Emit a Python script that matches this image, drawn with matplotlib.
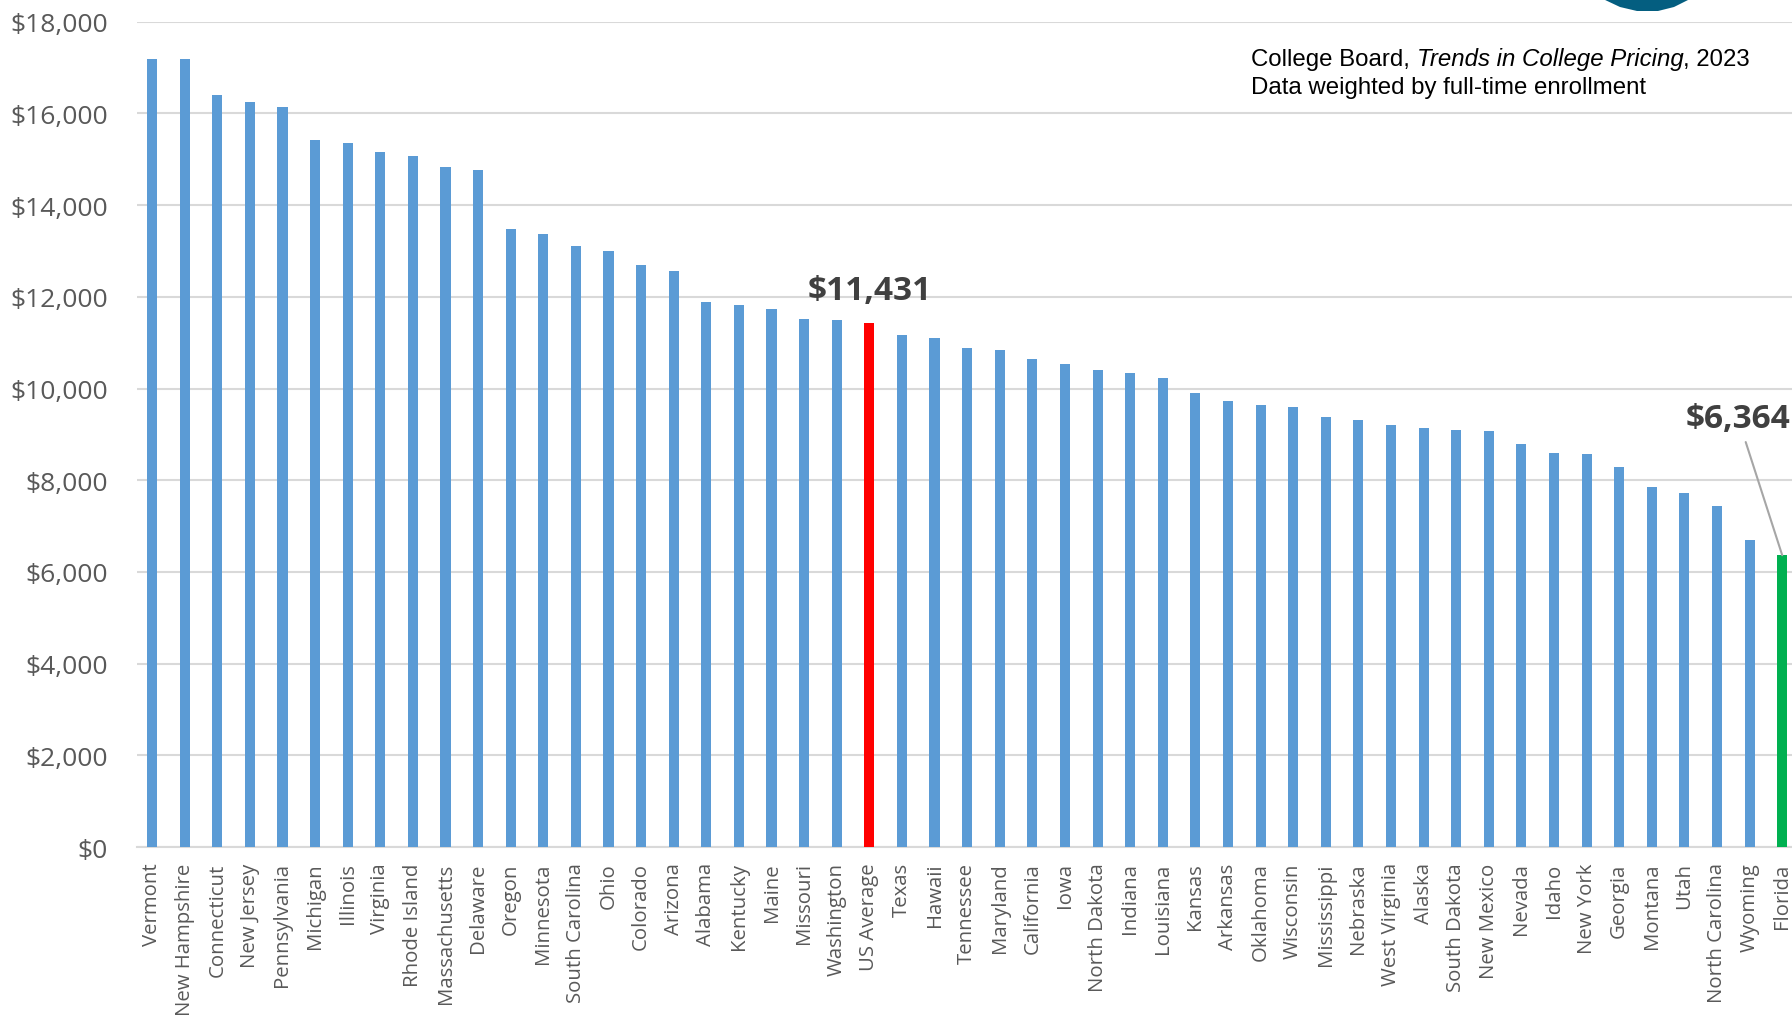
import matplotlib.pyplot as plt
from matplotlib.patches import Polygon
from matplotlib.ticker import FuncFormatter

states = [
    "Vermont", "New Hampshire", "Connecticut", "New Jersey", "Pennsylvania",
    "Michigan", "Illinois", "Virginia", "Rhode Island", "Massachusetts",
    "Delaware", "Oregon", "Minnesota", "South Carolina", "Ohio", "Colorado",
    "Arizona", "Alabama", "Kentucky", "Maine", "Missouri", "Washington",
    "US Average", "Texas", "Hawaii", "Tennessee", "Maryland", "California",
    "Iowa", "North Dakota", "Indiana", "Louisiana", "Kansas", "Arkansas",
    "Oklahoma", "Wisconsin", "Mississippi", "Nebraska", "West Virginia",
    "Alaska", "South Dakota", "New Mexico", "Nevada", "Idaho", "New York",
    "Georgia", "Montana", "Utah", "North Carolina", "Wyoming", "Florida",
]
tuition = [
    17180, 17185, 16400, 16250, 16140, 15420, 15355, 15160, 15080, 14830,
    14760, 13485, 13360, 13110, 12990, 12690, 12565, 11890, 11815, 11740,
    11520, 11495, 11431, 11175, 11095, 10875, 10840, 10645, 10545, 10395,
    10345, 10220, 9895, 9720, 9645, 9595, 9370, 9320, 9195, 9145, 9095,
    9075, 8790, 8595, 8565, 8295, 7860, 7715, 7430, 6690, 6364,
]

BLUE = "#5B9BD5"
RED = "#FF0000"
GREEN = "#00B050"
GRID = "#D9D9D9"
TEXT = "#595959"
W, H = 1792, 1020

colors = []
for s in states:
    if s == "US Average":
        colors.append(RED)
    elif s == "Florida":
        colors.append(GREEN)
    else:
        colors.append(BLUE)

fig = plt.figure(figsize=(W / 100, H / 100), dpi=100)
ax = fig.add_axes([0.0765, 0.1686, 0.9235, 0.9777 - 0.1686])

x = list(range(len(states)))
ax.bar(x, tuition, width=0.31, color=colors, zorder=3)

ax.set_ylim(0, 18000)
ax.set_xlim(-0.46, 50.3)
ax.set_yticks(range(0, 18001, 2000))
ax.yaxis.set_major_formatter(FuncFormatter(lambda v, p: f"${v:,.0f}"))
ax.grid(axis="y", color=GRID, linewidth=1.5, zorder=0)
for side in ["top", "right", "left"]:
    ax.spines[side].set_visible(False)
ax.spines["bottom"].set_color(GRID)
ax.spines["bottom"].set_linewidth(1.5)

ax.set_xticks(x)
ax.set_xticklabels(states, rotation=90, fontsize=14.7, color=TEXT, family="Open Sans")
ax.tick_params(axis="x", length=0, pad=11)
ax.tick_params(axis="y", length=0, pad=21, labelsize=19, labelcolor=TEXT)
for lab in ax.get_yticklabels():
    lab.set_family("Open Sans")

# value callouts
us_idx = states.index("US Average")
ax.text(us_idx, tuition[us_idx] + 350, f"${tuition[us_idx]:,}", ha="center", va="bottom",
        fontsize=24, fontweight="bold", color="#404040", family="Open Sans")
fl_idx = states.index("Florida")
ax.annotate(f"${tuition[fl_idx]:,}", xy=(fl_idx, tuition[fl_idx]), xytext=(fl_idx - 1.35, 8980),
            ha="center", va="bottom", fontsize=24, fontweight="bold", color="#404040",
            family="Open Sans",
            arrowprops=dict(arrowstyle="-", color="#A6A6A6", lw=1.5, shrinkA=3, shrinkB=0))

# source note, first line with italic report title
fig.canvas.draw()
renderer = fig.canvas.get_renderer()
x0 = 1251
parts = [("College Board, ", "normal"), ("Trends in College Pricing", "italic"), (", 2023", "normal")]
for txt, style in parts:
    t = fig.text(x0 / W, 1 - 66 / H, txt, fontsize=17.3, family="Liberation Sans",
                 style=style, va="baseline", ha="left")
    x0 += t.get_window_extent(renderer).width
fig.text(1251 / W, 1 - 94 / H, "Data weighted by full-time enrollment", fontsize=17.3,
         family="Liberation Sans", va="baseline", ha="left")

# partial logo cut off at the top edge
logo_x = [1603, 1690, 1674, 1658, 1637, 1620]
logo_y = [0, 0, 8, 12, 12, 8]
logo = Polygon([(px / W, 1 - py / H) for px, py in zip(logo_x, logo_y)], closed=True,
               transform=fig.transFigure, facecolor="#045E80", edgecolor="none", zorder=5)
fig.patches.append(logo)

fig.savefig("out.png", dpi=100)
